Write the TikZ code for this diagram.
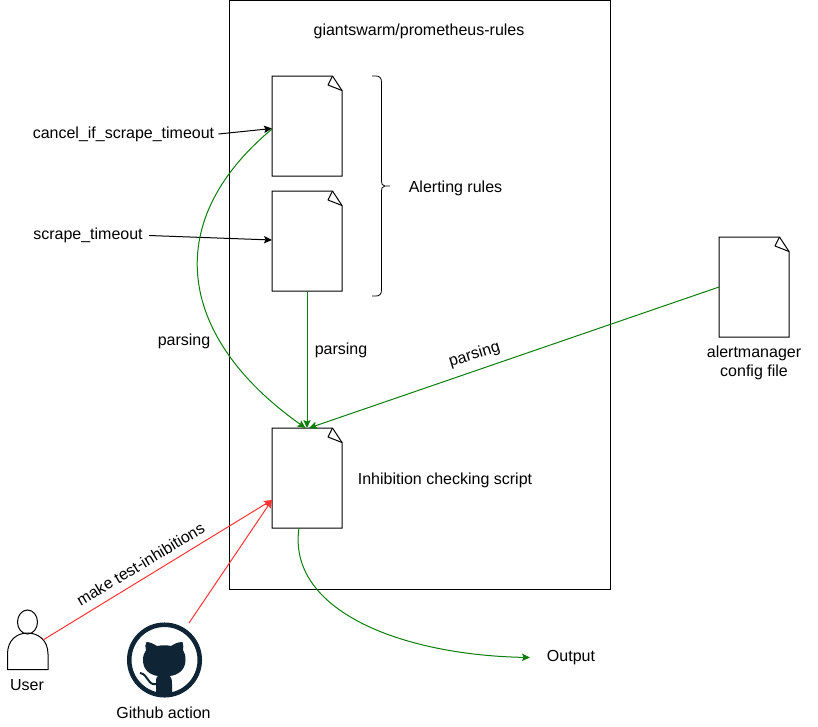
\documentclass[tikz,border=0pt]{standalone}
\usepackage{fontspec}
\setmainfont{Liberation Sans}
\usetikzlibrary{arrows.meta}
\definecolor{linegreen}{HTML}{0A7D0A}
\definecolor{linered}{HTML}{FF3333}
\definecolor{octo}{HTML}{0F2536}
\tikzset{
  ln/.style={line width=.75pt,line join=miter},
  arr/.style={ln,-{Stealth[length=6pt,width=5.5pt,inset=1.2pt]}},
  arrblack/.style={arr,black},
  arrgreen/.style={arr,linegreen},
  arrred/.style={arr,linered},
  txt/.style={font=\fontsize{12pt}{14.2pt}\selectfont,inner sep=1.5pt,align=center,text=black},
  docbox/.style={minimum width=52.5pt,minimum height=75pt,inner sep=0pt,outer sep=0pt},
}
\newcommand{\docnode}[2]{%
  \node[docbox] (#1) at (#2) {};
  \draw[ln,shift={(#1.center)}] (-35,-50) -- (25.5,-50) -- (35,-35.5) -- (35,50) -- (-35,50) -- cycle;
  \draw[ln,shift={(#1.center)},line join=round] (25.5,-50) -- (21,-41) -- (35,-35.5);
}
\begin{document}
\begin{tikzpicture}[x=.75pt,y=-.75pt]
\useasboundingbox (0,0) rectangle (818,726);
\node[draw,ln,minimum width=285.75pt,minimum height=441.75pt,inner sep=0pt,outer sep=0pt] (repo) at (419.5,294.5) {};
\node[txt] (title) at (419,31.5) {giantswarm/prometheus-rules};
\docnode{d1}{307,126}
\docnode{d2}{307,241}
\docnode{d3}{307,478}
\docnode{d4}{754,287}
% brace
\coordinate (bracetip) at (390,186);
\draw[ln,line width=.6pt] (372,76) -- (376,76) .. controls (379.5,76) and (381.5,78) .. (381.5,82) -- (381.5,180)
  .. controls (381.5,184) and (382.5,186) .. (385,186) -- (bracetip) -- (385,186)
  .. controls (382.5,186) and (381.5,188) .. (381.5,192) -- (381.5,290)
  .. controls (381.5,294) and (379.5,296) .. (376,296) -- (372,296);
% texts
\node[txt] (alerting) at (455.5,188) {Alerting rules};
\node[txt] (inhib) at (445,480) {Inhibition checking script};
\node[txt] (cancel) at (123.5,134) {cancel\_if\_scrape\_timeout};
\node[txt] (scrape) at (88,235.5) {scrape\_timeout};
\node[txt] (plabel1) at (184,341) {parsing};
\node[txt] (plabel2) at (341,350) {parsing};
\node[txt,rotate=17] (plabel3) at (474.5,355) {parsing};
\node[txt] (amfile) at (754,363) {alertmanager\\config file};
\node[txt] (output) at (571,657.5) {Output};
\node[txt,rotate=31] at (140.5,564) (maketest) {make test-inhibitions};
\node[txt] (usertxt) at (27,685) {User};
\node[txt] (ghtxt) at (163.5,713) {Github action};
% user
\node[minimum width=30pt,minimum height=27pt,inner sep=0pt] (user) at (27.5,651) {};
\draw[ln] (27.5,622) ellipse (10 and 12);
\draw[ln] (7.5,669.5) -- (48,669.5) -- (48,654) .. controls (48,640) and (38,633) .. (27.5,633)
  .. controls (17,633) and (7.5,640) .. (7.5,654) -- cycle;
% github
\node[circle,draw=octo,line width=3.4pt,minimum size=52.9pt,inner sep=0pt] (github) at (164.5,660) {};
\fill[octo] (146.5,642) .. controls (150,642) and (154,644) .. (157,646) .. controls (162,645) and (167,645) .. (171,646)
  .. controls (174,644) and (178,642) .. (182.5,642) .. controls (183.5,645) and (183.5,648) .. (183,650)
  .. controls (185,653) and (185.5,656) .. (185.5,660) .. controls (185.5,670) and (178,675) .. (170,676)
  .. controls (171.5,678) and (172,680) .. (172,684) -- (172,694) -- (156,694) -- (156,680)
  .. controls (156,678) and (157,677) .. (158,676) .. controls (150,675) and (143,670) .. (143,660)
  .. controls (143,656) and (144,653) .. (146,650) .. controls (145,647) and (145,644) .. (146.5,642) -- cycle;
\draw[octo,line width=1.5pt] (156,684) .. controls (148,686) and (148,674) .. (140,673);
% connectors
\coordinate (d1in) at (272,128.5);
\coordinate (d1green) at (272,129);
\coordinate (d2in) at (272,240);
\coordinate (d3red) at (272,500);
\coordinate (d3left) at (305.5,428);
\coordinate (d3right) at (309,428);
\coordinate (userout) at (43,640);
\coordinate (ghout) at (189,623);
\coordinate (d3out) at (299,528);
\coordinate (outin) at (530,657.5);
\draw[arrblack] ([xshift=1.5pt]cancel.east) -- (d1in);
\draw[arrblack] ([xshift=3pt]scrape.east) -- (d2in);
\draw[arrgreen] (d1green) .. controls (157,225) and (181,340) .. (d3left);
\draw[arrgreen] (d2.south) -- (d3.north);
\draw[arrgreen] (d4.west) -- (d3right);
\draw[arrgreen] (d3out) .. controls (287,610) and (400,655) .. (outin);
\draw[arrred] (userout) -- (d3red);
\draw[arrred] (ghout) -- (d3red);
\end{tikzpicture}
\end{document}
